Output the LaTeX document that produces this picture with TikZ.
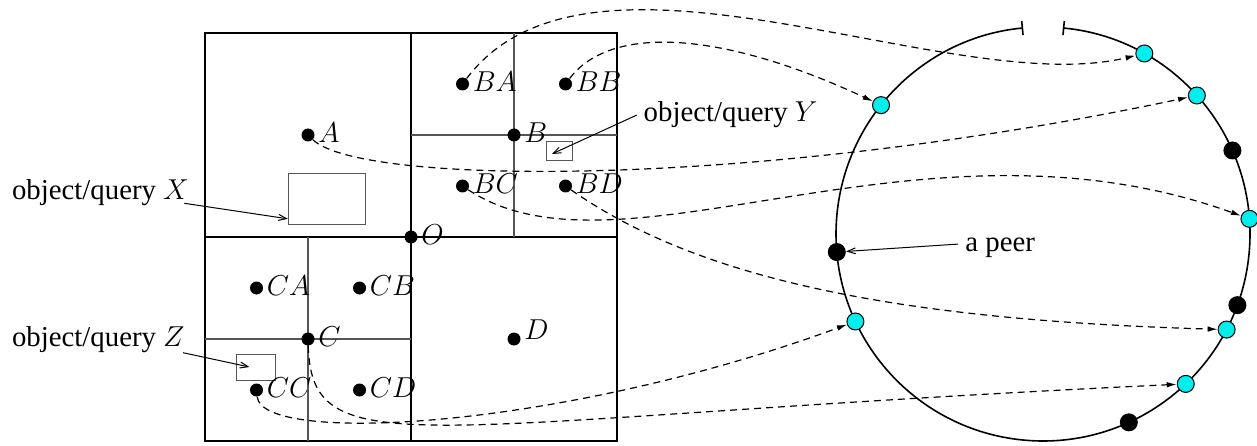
\documentclass[tikz,border=0pt]{standalone}
\usepackage{fontspec}
\setmainfont{Liberation Serif}
\definecolor{ink}{RGB}{0,0,0}
\definecolor{hitcol}{RGB}{0,238,238}
\definecolor{gridsoft}{RGB}{85,85,85}
\usetikzlibrary{arrows.meta,positioning}

\tikzset{
  cell/.style={ink, line width=0.9pt},
  subcell/.style={gridsoft, line width=0.7pt},
  dot/.style={circle, fill=ink, inner sep=0pt, minimum size=6.5pt, label distance=6.2pt},
  mlab/.style={inner sep=0pt, xshift=1.5pt, yshift=1.4pt},
  obj/.style={draw=gridsoft, line width=0.5pt, inner sep=0pt},
  txt/.style={inner sep=0pt, anchor=base west},
  hit/.style={circle, draw=ink, line width=0.5pt, fill=hitcol, inner sep=0pt, minimum size=8.5pt},
  peer/.style={circle, fill=ink, inner sep=0pt, minimum size=9pt},
  query/.style={dash pattern=on 3.5pt off 2.5pt, line width=0.6pt, -{Latex[length=5pt,width=2.8pt]}},
  callout/.style={line width=0.5pt, -{Straight Barb[length=4pt,width=3pt]}},
}

\begin{document}
\begin{tikzpicture}[x=0.5pt, y=0.5pt, every node/.style={font=\fontsize{14.4}{17}\selectfont}]
  \useasboundingbox (0,0) rectangle (1257,445);

  % quadtree cells
  \draw[cell] (205,4) rectangle (617,412);
  \draw[cell] (205,208) -- (617,208) (411,4) -- (411,412);
  \draw[subcell] (514,208) -- (514,412) (411,310) -- (617,310);
  \draw[subcell] (308,4) -- (308,208) (205,106) -- (411,106);

  % objects / queries
  \node[obj, minimum width=38.7pt, minimum height=25.9pt] (objX) at (327,246) {};
  \node[obj, minimum width=19.3pt, minimum height=13pt] (objZ) at (256,78) {};
  \node[obj, minimum width=13pt, minimum height=9.7pt] (objY) at (559,294) {};

  % region centres
  \node[dot, label={[mlab]right:$O$}] (O) at (411,208) {};
  \node[dot, label={[mlab]right:$A$}] (A) at (308,310) {};
  \node[dot, label={[mlab]right:$B$}] (B) at (514,310) {};
  \node[dot, label={[mlab]right:$C$}] (C) at (308,106) {};
  \node[dot, label={[mlab, yshift=3.5pt]right:$D$}] (D) at (514,106) {};
  \node[dot, label={[mlab]right:$BA$}] (BA) at (462.5,361) {};
  \node[dot, label={[mlab]right:$BB$}] (BB) at (565.5,361) {};
  \node[dot, label={[mlab]right:$BC$}] (BC) at (462.5,259) {};
  \node[dot, label={[mlab]right:$BD$}] (BD) at (565.5,259) {};
  \node[dot, label={[mlab]right:$CA$}] (CA) at (256.5,157) {};
  \node[dot, label={[mlab]right:$CB$}] (CB) at (359.5,157) {};
  \node[dot, label={[mlab]right:$CC$}] (CC) at (256.5,55) {};
  \node[dot, label={[mlab]right:$CD$}] (CD) at (359.5,55) {};

  % texts
  \node[txt] (qX) at (11.7,245.7) {object/query $X$};
  \node[txt] (qZ) at (11.7,98.3) {object/query $Z$};
  \node[txt] (qY) at (643.3,323.3) {object/query $Y$};
  \node[txt] (apeer) at (965,193.3) {a peer};

  % ring of peers
  \begin{scope}[shift={(1043,211)}]
    \draw[ink, line width=0.8pt, {Bar[width=7pt]}-{Bar[width=7pt]}] (84.5:207) arc[start angle=84.5, end angle=-264.5, radius=207];
    \node[hit] (t1) at (141.5:207) {};
    \node[hit] (t2) at (60.7:207) {};
    \node[hit] (t3) at (42:207) {};
    \node[hit] (t4) at (4.2:207) {};
    \node[hit] (t5) at (-27.5:207) {};
    \node[hit] (t6) at (205:207) {};
    \node[hit] (t7) at (-46.4:207) {};
    \node[peer] (n1) at (23.8:207) {};
    \node[peer] (n2) at (185:207) {};
    \node[peer] (n3) at (-20.1:207) {};
    \node[peer] (n4) at (-65.5:207) {};
  \end{scope}

  % callouts
  \draw[callout] ([xshift=-2.5pt,yshift=-2pt]qX.base east) -- ([yshift=3.3pt]objX.south west);
  \draw[callout] ([xshift=-1pt,yshift=-3pt]qZ.base east) -- ([xshift=-3.3pt]objZ.center);
  \draw[callout] ([xshift=-3.3pt,yshift=3.3pt]qY.base west) -- ([xshift=-3.6pt,yshift=-1.5pt]objY.center);
  \draw[callout] ([xshift=-3.5pt,yshift=3.8pt]apeer.base west) -- (n2);

  % mapping of regions to peers
  \draw[query] (BA) .. controls (590,530) and (950,345) .. (t2);
  \draw[query] (BB) .. controls (610,420) and (720,415) .. (t1);
  \draw[query] (A) .. controls (360,260) and (750,255) .. (t3);
  \draw[query] (BC) .. controls (620,155) and (920,345) .. (t4);
  \draw[query] (BD) .. controls (700,165) and (900,125) .. (t5);
  \draw[query] (CC) .. controls (262,0) and (560,15) .. (t6);
  \draw[query] (C) .. controls (312,-25) and (420,25) .. (t7);
\end{tikzpicture}
\end{document}
